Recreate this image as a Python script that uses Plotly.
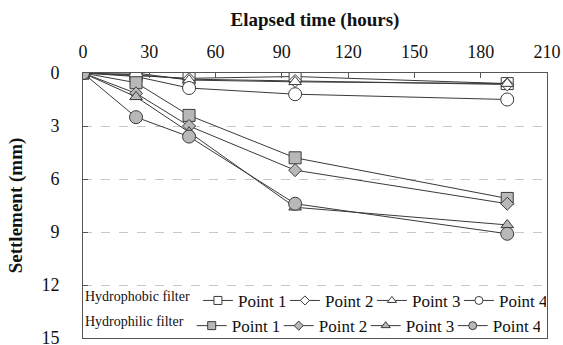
import plotly.graph_objects as go

# Elapsed time (hours) at each reading
hours = [0, 24, 48, 96, 192]

# Settlement (mm) under the hydrophobic filter
phobic_p1 = [0, 0.15, 0.30, 0.20, 0.60]
phobic_p2 = [0, 0.10, 0.35, 0.45, 0.65]
phobic_p3 = [0, 0.00, 0.40, 0.50, 0.60]
phobic_p4 = [0, 0.20, 0.85, 1.20, 1.50]

# Settlement (mm) under the hydrophilic filter
philic_p1 = [0, 0.55, 2.40, 4.80, 7.10]
philic_p2 = [0, 1.15, 3.00, 5.50, 7.40]
philic_p3 = [0, 1.35, 3.35, 7.60, 8.60]
philic_p4 = [0, 2.50, 3.60, 7.40, 9.10]

point_names = ["Point 1", "Point 2", "Point 3", "Point 4"]
x_ticks = [0, 30, 60, 90, 120, 150, 180, 210]
y_ticks = [0, 3, 6, 9, 12, 15]

SERIF = "Liberation Serif"
LINE = "#3a3a3a"
symbols = ["square", "diamond", "triangle-up", "circle"]
sizes = [12, 10, 11, 13]
key_sizes = [8, 7, 8, 8]

fig = go.Figure()

groups = [
    ([phobic_p1, phobic_p2, phobic_p3, phobic_p4], "white", "legend"),
    ([philic_p1, philic_p2, philic_p3, philic_p4], "#b8b8b8", "legend2"),
]
for series, fill, leg in groups:
    for name, vals, sym, sz, ksz in zip(point_names, series, symbols, sizes, key_sizes):
        # plotted series
        fig.add_trace(go.Scatter(
            x=hours, y=vals, name=name, mode="lines+markers",
            line=dict(color=LINE, width=1),
            marker=dict(symbol=sym, size=sz, color=fill,
                        line=dict(color=LINE, width=1)),
            showlegend=False,
        ))
        # compact key entry for the legend
        fig.add_trace(go.Scatter(
            x=[None], y=[None], name=name, mode="lines+markers",
            line=dict(color=LINE, width=1),
            marker=dict(symbol=sym, size=ksz, color=fill,
                        line=dict(color=LINE, width=1)),
            legend=leg, hoverinfo="skip",
        ))

legend_common = dict(
    orientation="h", x=0.0, xanchor="left", yanchor="middle",
    bgcolor="rgba(255,255,255,0)", borderwidth=0,
    font=dict(family=SERIF, size=17, color="#111"),
    itemsizing="trace", itemwidth=30,
    entrywidth=42, entrywidthmode="pixels",
    tracegroupgap=0,
)
title_font = dict(family=SERIF, size=14, color="#111")

fig.update_layout(
    width=563, height=345,
    margin=dict(l=83, r=16, t=73, b=7, autoexpand=False),
    paper_bgcolor="white", plot_bgcolor="white",
    font=dict(family=SERIF, size=18, color="#111"),
    legend=dict(**legend_common, y=0.140,
                title=dict(text="Hydrophobic filter", side="left",
                           font=title_font)),
    legend2=dict(**legend_common, y=0.045,
                 title=dict(text="Hydrophilic filter", side="left",
                            font=title_font)),
    xaxis=dict(
        side="top", range=[0, 210], tickvals=x_ticks,
        ticks="inside", ticklen=5, tickcolor="#555",
        showline=True, linecolor="#555", linewidth=1, mirror=True,
        showgrid=False, zeroline=False, ticklabelstandoff=7,
        ticklabeloverflow="allow",
        tickfont=dict(family=SERIF, size=18, color="#111"),
        title=dict(text="<b>Elapsed time (hours)</b>", standoff=10,
                   font=dict(family=SERIF, size=19, color="#111")),
    ),
    yaxis=dict(
        range=[15, 0], tickvals=y_ticks,
        ticks="inside", ticklen=5, tickcolor="#555",
        showline=True, linecolor="#555", linewidth=1, mirror=True,
        showgrid=True, gridcolor="#c8c8c8", griddash="dash", gridwidth=1,
        zeroline=False, ticklabelstandoff=19,
        ticklabeloverflow="allow",
        tickfont=dict(family=SERIF, size=18, color="#111"),
        title=dict(text="<b>Settlement (mm)</b>", standoff=13,
                   font=dict(family=SERIF, size=19, color="#111")),
    ),
)

fig.write_html("out.html")
